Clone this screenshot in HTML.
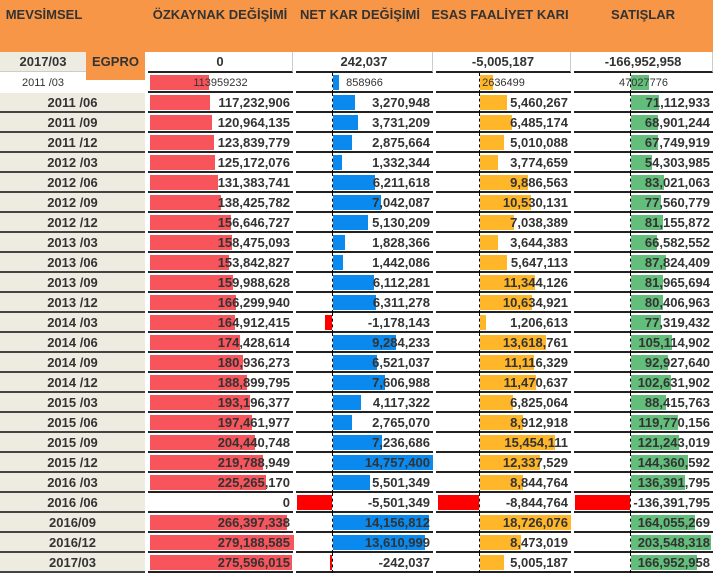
<!DOCTYPE html>
<html><head><meta charset="utf-8">
<style>
body{margin:0;width:713px;height:573px;overflow:hidden;background:#fff;font-family:"Liberation Sans",sans-serif;position:relative}
.a{position:absolute;box-sizing:border-box}
.h{font-weight:bold;font-size:13px;color:#333;top:7px;text-align:center;white-space:nowrap}
.v{font-weight:bold;font-size:13px;color:#333;white-space:nowrap}
</style></head><body>
<div class="a" style="left:0;top:0;width:713px;height:52px;background:#f79646"></div>
<div class="a h" style="left:0;width:88px">MEVSİMSEL</div>
<div class="a h" style="left:140px;width:160px">ÖZKAYNAK DEĞİŞİMİ</div>
<div class="a h" style="left:290px;width:140px">NET KAR DEĞİŞİMİ</div>
<div class="a h" style="left:425px;width:150px">ESAS FAALİYET KARI</div>
<div class="a h" style="left:573px;width:140px">SATIŞLAR</div>
<div id="t"></div>
<script>
const periods=["2011 /03","2011 /06","2011 /09","2011 /12","2012 /03","2012 /06","2012 /09","2012 /12","2013 /03","2013 /06","2013 /09","2013 /12","2014 /03","2014 /06","2014 /09","2014 /12","2015 /03","2015 /06","2015 /09","2015 /12","2016 /03","2016 /06","2016/09","2016/12","2017/03"];
const ozk=[113959232,117232906,120964135,123839779,125172076,131383741,138425782,156646727,158475093,153842827,159988628,166299940,164912415,174428614,180936273,188899795,193196377,197461977,204440748,219788949,225265170,0,266397338,279188585,275596015];
const net=[858966,3270948,3731209,2875664,1332344,6211618,7042087,5130209,1828366,1442086,6112281,6311278,-1178143,9284233,6521037,7606988,4117322,2765070,7236686,14757400,5501349,-5501349,14156812,13610999,-242037];
const esas=[2636499,5460267,6485174,5010088,3774659,9886563,10530131,7038389,3644383,5647113,11344126,10634921,1206613,13618761,11116329,11470637,6825064,8912918,15454111,12337529,8844764,-8844764,18726076,8473019,5005187];
const sat=[47027776,71112933,68901244,67749919,54303985,83021063,77560779,81155872,66582552,87824409,81965694,80406963,77319432,105114902,92927640,102631902,88415763,119770156,121243019,144360592,136391795,-136391795,164055269,203548318,166952958];
const topVals=["0","242,037","-5,005,187","-166,952,958"];
const cols=[
 {name:"ozkaynak",data:ozk,x0:148,x1:293,axis:149,pos:144/279188585,neg:0,color:"#f8545c"},
 {name:"net-kar",data:net,x0:296,x1:433,axis:332,pos:100/14757400,neg:35/5501349,color:"#0a8aee"},
 {name:"esas-faaliyet",data:esas,x0:436,x1:571,axis:479,pos:91/18726076,neg:41/8844764,color:"#ffb628"},
 {name:"satislar",data:sat,x0:574,x1:713,axis:630,pos:80/203548318,neg:55/136391795,color:"#63be7b"}];
const T=document.getElementById('t');
function mk(cls,st,txt){const d=document.createElement('div');d.className='a '+cls;d.style.cssText=st;if(txt!==undefined)d.textContent=txt;T.appendChild(d);return d;}
const fmt=v=>v.toLocaleString('en-US');
// top summary row
let e=mk('','left:0;top:52px;width:86px;height:20px;background:#eeece1;border-bottom:1px solid #ccc;font-weight:bold;font-size:13px;color:#333;text-align:center;line-height:20px','2017/03');


e=mk('','left:86px;top:52px;width:59px;height:28px;background:#f79646;font-weight:bold;font-size:13px;color:#333;text-align:center;line-height:20px','EGPRO');


cols.forEach((c,j)=>{
 const d=mk('v',`left:${c.x0}px;top:52px;width:${c.x1-c.x0}px;height:21px;text-align:center;line-height:20px;border-right:1px solid #ccc;border-bottom:2px solid #222`,topVals[j]);
 
 
});
periods.forEach((p,i)=>{
 const first=i===0;
 const y=first?73:93+(i-1)*20, h=first?20:20;
 const lab=mk('',`left:0;top:${y}px;width:${first?86:145}px;height:${h}px;background:${first?'#fff':'#eeece1'};border-bottom:${first?'0':'2px solid #444'};font-weight:${first?'normal':'bold'};font-size:${first?11:13}px;color:#333;text-align:center;line-height:${h}px`,p);
 
 
 cols.forEach(c=>{
  const v=c.data[i];
  const cell=mk('',`left:${c.x0}px;top:${y}px;width:${c.x1-c.x0}px;height:${h}px;border-bottom:2px solid #222`);
  
  
  if(c.neg>0){const ax=mk('',`left:${c.axis}px;top:${y}px;width:0;height:${h}px;border-left:1px dashed #000;z-index:2`);
   
   }
  if(v!==0){
   const w=v>0?v*c.pos:-v*c.neg;
   const l=v>0?c.axis+1:c.axis-w;
   const b=mk('',`left:${l}px;top:${y+2}px;width:${w}px;height:${h-5}px;background:${v>0?c.color:'#ff0000'};z-index:1`);
   
   
  }
  const t=first?mk('',`left:${c.x0}px;top:${y}px;width:${c.x1-c.x0}px;height:${h}px;text-align:center;font-size:11px;color:#333;line-height:${h}px;z-index:3`,String(v))
   :mk('v',`left:${c.x0}px;top:${y}px;width:${c.x1-c.x0-3}px;height:${h}px;text-align:right;line-height:${h}px;z-index:3`,fmt(v));
  
  
 });
});
</script>
</body></html>
